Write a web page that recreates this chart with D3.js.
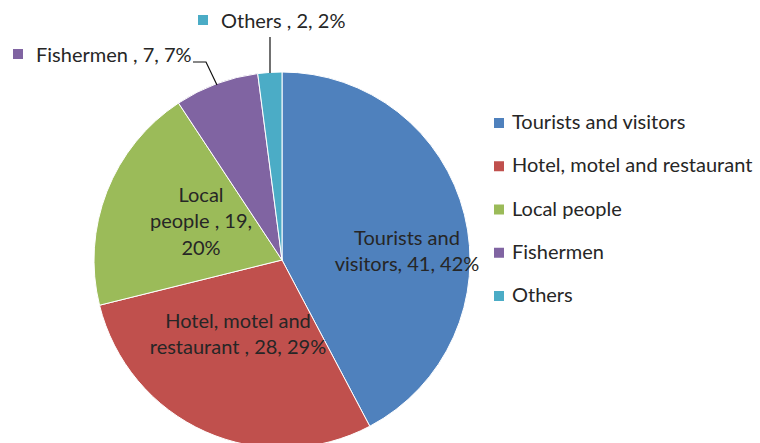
<!DOCTYPE html>
<html>
<head>
<meta charset="utf-8">
<script src="https://cdn.jsdelivr.net/npm/d3@7"></script>
<style>
  body { margin: 0; background: #fff; }
  svg { display: block; font-family: Lato, "Noto Sans", sans-serif; }
</style>
</head>
<body>
<svg id="chart" width="760" height="443"></svg>
<script>
const categories = ["Tourists and visitors", "Hotel, motel and restaurant", "Local people", "Fishermen", "Others"];
const values = [41, 28, 19, 7, 2];
const percents = ["42%", "29%", "20%", "7%", "2%"];
const colors = ["#4F81BD", "#C0504D", "#9BBB59", "#8064A2", "#4BACC6"];

// label lines as they wrap in the picture
const labelLines = [
  ["Tourists and", "visitors, 41, 42%"],
  ["Hotel, motel and", "restaurant , 28, 29%"],
  ["Local", "people , 19,", "20%"],
  ["Fishermen , 7, 7%"],
  ["Others , 2, 2%"]
];

const data = categories.map((name, i) => ({ name, value: values[i], pct: percents[i], color: colors[i], lines: labelLines[i] }));

const svg = d3.select("#chart");
const cx = 282, cy = 260, r = 188;
const fs = 20, ink = "#262626";

const pie = d3.pie().value(d => d.value).sort(null);
const arc = d3.arc().innerRadius(0).outerRadius(r);
const arcs = pie(data);

const g = svg.append("g").attr("transform", `translate(${cx},${cy})`);

g.selectAll("path").data(arcs).join("path")
  .attr("d", arc)
  .attr("fill", d => d.data.color)
  .attr("stroke", "#fff")
  .attr("stroke-width", 1);

// inside labels: centre x, first baseline (relative to pie centre)
const inside = { 0: [125, -15], 1: [-44, 68], 2: [-81, -58] };
const lh = 26.3;
arcs.slice(0, 3).forEach((a, i) => {
  const [x, y] = inside[i];
  const t = g.append("text")
    .attr("text-anchor", "middle")
    .attr("font-size", fs)
    .attr("fill", ink);
  a.data.lines.forEach((l, k) => {
    t.append("tspan").attr("x", x).attr("y", y + k * lh).text(l);
  });
});

// outside labels with leader lines and colour key
const outer = [
  { i: 3, sq: [13, 49], tx: 36, ty: 62, path: [[193, 62], [206, 62], [217, 85]] },
  { i: 4, sq: [198, 15], tx: 221, ty: 28, path: [[270, 37], [270, 73]] }
];
outer.forEach(o => {
  const d = data[o.i];
  svg.append("rect").attr("x", o.sq[0]).attr("y", o.sq[1]).attr("width", 10).attr("height", 10).attr("fill", d.color);
  svg.append("text").attr("x", o.tx).attr("y", o.ty).attr("font-size", fs).attr("fill", ink).text(d.lines[0]);
  svg.append("path").attr("d", d3.line()(o.path)).attr("fill", "none").attr("stroke", "#111").attr("stroke-width", 1.2);
});

// legend
const legend = svg.append("g").attr("transform", "translate(494,118)");
const ly = d3.scalePoint().domain(categories).range([0, 173]);
const item = legend.selectAll("g").data(data).join("g")
  .attr("transform", d => `translate(0,${ly(d.name)})`);
item.append("rect").attr("width", 10).attr("height", 10).attr("fill", d => d.color);
item.append("text").attr("x", 18).attr("y", 11).attr("font-size", fs).attr("fill", ink).text(d => d.name);
</script>
</body>
</html>
